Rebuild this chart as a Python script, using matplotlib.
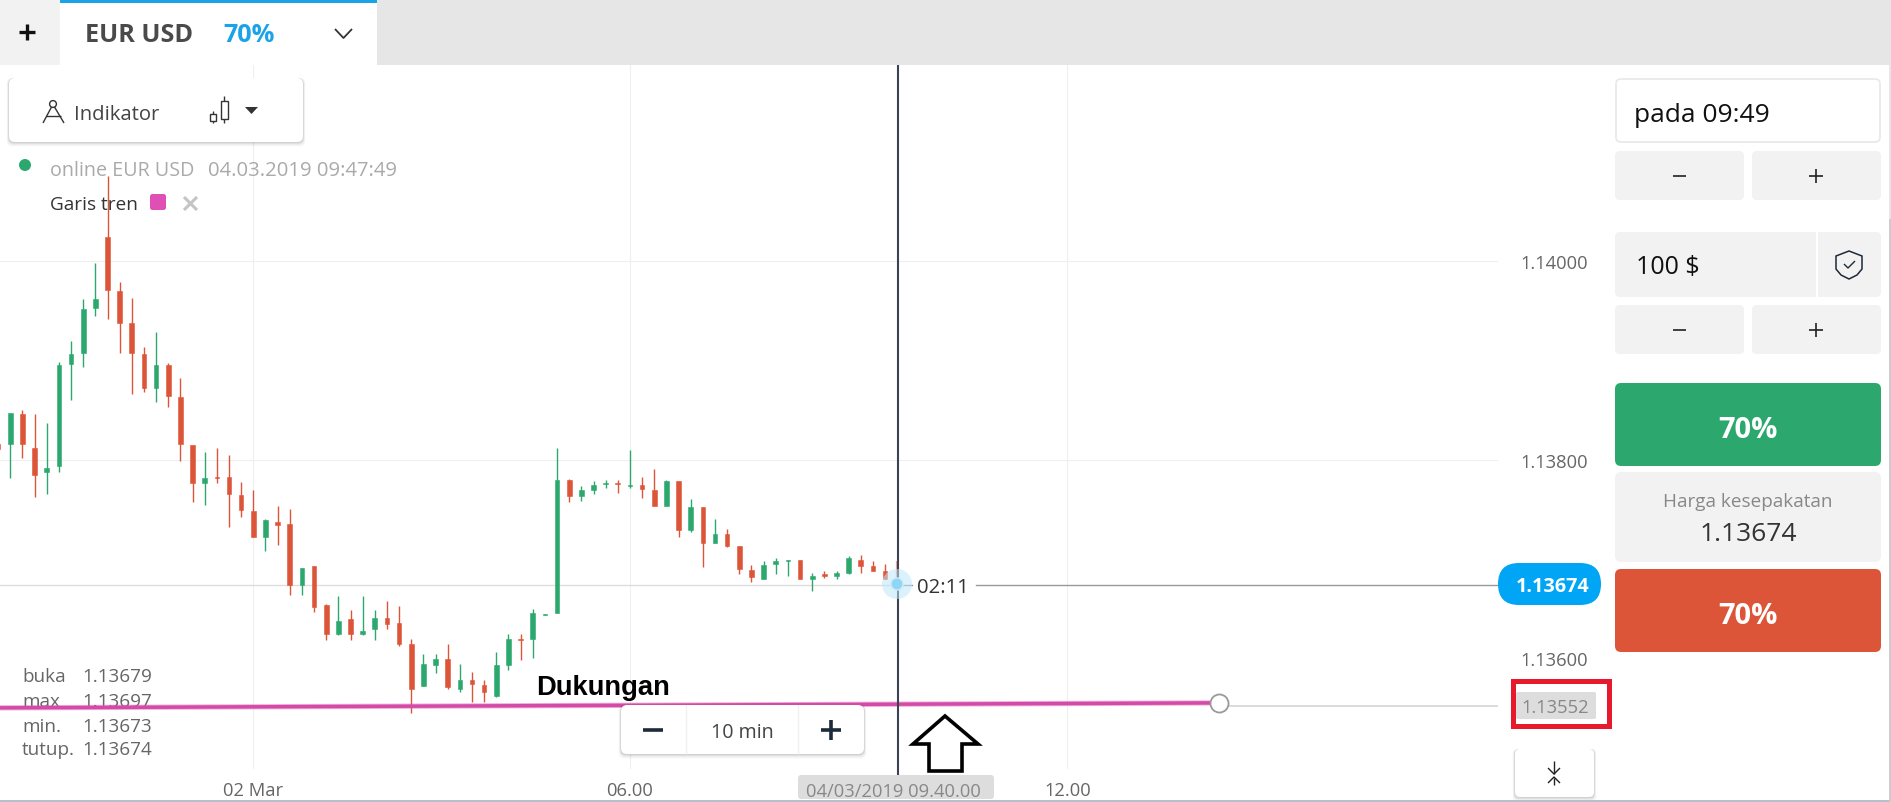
import numpy as np
import matplotlib
matplotlib.use("Agg")
import matplotlib.pyplot as plt
from matplotlib.patches import FancyBboxPatch, Rectangle, Circle, Polygon

plt.rcParams['font.family'] = ['Open Sans', 'DejaVu Sans']

W, H = 1891, 803

## candles (first one is cut by the left edge)
opens = [1.13816, 1.13816, 1.13846, 1.13812, 1.13788, 1.13794, 1.13896, 1.13907, 1.13953, 1.14024, 1.13970, 1.13938, 1.13906, 1.13872, 1.13895, 1.13863, 1.13815, 1.13776, 1.13782, 1.13782, 1.13764, 1.13748, 1.13722, 1.13737, 1.13735, 1.13674, 1.13693, 1.13654, 1.13624, 1.13639, 1.13624, 1.13629, 1.13640, 1.13635, 1.13614, 1.13572, 1.13593, 1.13599, 1.13569, 1.13578, 1.13573, 1.13562, 1.13593, 1.13619, 1.13619, 1.13644, 1.13646, 1.13779, 1.13763, 1.13769, 1.13775, 1.13776, 1.13773, 1.13774, 1.13769, 1.13753, 1.13778, 1.13729, 1.13752, 1.13716, 1.13725, 1.13713, 1.13689, 1.13680, 1.13695, 1.13698, 1.13699, 1.13680, 1.13685, 1.13683, 1.13686, 1.13699, 1.13693, 1.13688, 1.13680]
highs = [1.13817, 1.13847, 1.13850, 1.13846, 1.13837, 1.13898, 1.13919, 1.13962, 1.13998, 1.14086, 1.13979, 1.13963, 1.13913, 1.13928, 1.13897, 1.13882, 1.13815, 1.13808, 1.13812, 1.13805, 1.13777, 1.13769, 1.13740, 1.13753, 1.13750, 1.13691, 1.13693, 1.13655, 1.13663, 1.13649, 1.13663, 1.13649, 1.13658, 1.13653, 1.13619, 1.13604, 1.13604, 1.13614, 1.13594, 1.13586, 1.13578, 1.13606, 1.13624, 1.13624, 1.13650, 1.13645, 1.13812, 1.13780, 1.13773, 1.13778, 1.13779, 1.13779, 1.13810, 1.13782, 1.13791, 1.13779, 1.13778, 1.13760, 1.13752, 1.13740, 1.13730, 1.13713, 1.13694, 1.13698, 1.13701, 1.13699, 1.13699, 1.13686, 1.13688, 1.13688, 1.13703, 1.13704, 1.13698, 1.13695, 1.13698]
lows = [1.13810, 1.13781, 1.13802, 1.13762, 1.13765, 1.13788, 1.13860, 1.13893, 1.13945, 1.13942, 1.13907, 1.13866, 1.13868, 1.13858, 1.13853, 1.13799, 1.13757, 1.13754, 1.13776, 1.13732, 1.13742, 1.13722, 1.13708, 1.13714, 1.13664, 1.13664, 1.13647, 1.13618, 1.13623, 1.13618, 1.13623, 1.13618, 1.13629, 1.13612, 1.13545, 1.13572, 1.13585, 1.13569, 1.13566, 1.13556, 1.13556, 1.13561, 1.13588, 1.13598, 1.13600, 1.13644, 1.13646, 1.13757, 1.13758, 1.13765, 1.13771, 1.13766, 1.13771, 1.13761, 1.13753, 1.13753, 1.13722, 1.13727, 1.13692, 1.13716, 1.13712, 1.13685, 1.13677, 1.13680, 1.13685, 1.13683, 1.13680, 1.13668, 1.13681, 1.13680, 1.13685, 1.13686, 1.13688, 1.13680, 1.13674]
closes = [1.13811, 1.13847, 1.13816, 1.13784, 1.13792, 1.13895, 1.13906, 1.13952, 1.13962, 1.13971, 1.13938, 1.13907, 1.13872, 1.13895, 1.13864, 1.13816, 1.13776, 1.13781, 1.13781, 1.13765, 1.13749, 1.13722, 1.13739, 1.13734, 1.13674, 1.13691, 1.13652, 1.13624, 1.13637, 1.13624, 1.13627, 1.13640, 1.13634, 1.13614, 1.13569, 1.13594, 1.13599, 1.13571, 1.13578, 1.13574, 1.13566, 1.13593, 1.13619, 1.13618, 1.13646, 1.13645, 1.13779, 1.13763, 1.13769, 1.13774, 1.13776, 1.13775, 1.13774, 1.13770, 1.13753, 1.13778, 1.13729, 1.13752, 1.13716, 1.13725, 1.13713, 1.13690, 1.13682, 1.13694, 1.13698, 1.13699, 1.13680, 1.13683, 1.13683, 1.13686, 1.13701, 1.13693, 1.13688, 1.13680, 1.13674]

price_ticks = [1.136, 1.138, 1.140]
price_labels = ['1.13600', '1.13800', '1.14000']
grid_prices = [1.138, 1.140]
time_ticks = [21, 52, 88]
time_labels = ['02 Mar', '06.00', '12.00']
current_price = 1.13674
trend_x = [0, 100.5]
trend_y = [1.13550, 1.13555]
trend_end = 1.13552
ohlc_names = ['buka', 'max', 'min.', 'tutup.']
ohlc_vals = ['1.13679', '1.13697', '1.13673', '1.13674']

GREEN = '#2ca86f'
RED = '#dd5539'
PINK = '#e04fb4'

fig = plt.figure(figsize=(W / 100, H / 100), dpi=100, facecolor='white')

## chart area in pixels: x 0..1498, y 66..770
ax = fig.add_axes([0, 1 - 770 / H, 1498 / W, (770 - 66) / H])
step = 12.15
ax.set_xlim(1.85 / step, (1498 + 1.85) / step)
y_per_px = 1e-5 / 0.993
ax.set_ylim(1.14 - (770 - 262) * y_per_px, 1.14 + (262 - 66) * y_per_px)

for s in ax.spines.values():
    s.set_visible(False)
ax.set_yticks(price_ticks)
ax.set_yticklabels(price_labels)
ax.set_xticks(time_ticks)
ax.set_xticklabels(time_labels)
ax.yaxis.tick_right()
ax.tick_params(axis='y', length=0, pad=16, labelsize=13.2, labelcolor='#666666')
ax.tick_params(axis='x', length=0, pad=8.5, labelsize=13.2, labelcolor='#666666')
ax.grid(True, axis='x', color='#efefef', lw=0.8)
ax.set_axisbelow(True)
## the 1.13600 level has a label but no line in the app
for g in grid_prices:
    ax.axhline(g, color='#efefef', lw=0.8, zorder=0.5)

opens_a = np.array(opens)
closes_a = np.array(closes)
idx = np.arange(len(opens))
up = closes_a >= opens_a
cols = np.where(up, GREEN, RED)

last = len(opens) - 1
ax.vlines(idx[:last], lows[:last], highs[:last], colors=cols[:last], lw=1.0, zorder=3)
ax.bar(idx[:last], np.abs(closes_a - opens_a)[:last], bottom=np.minimum(opens_a, closes_a)[:last],
       width=0.38, color=cols[:last], edgecolor=cols[:last], lw=0.4, zorder=3)
ax.vlines(idx[last], lows[last], highs[last], colors=RED, lw=1.6, alpha=0.5, zorder=3)

## current price line, left part light, right part darker after the countdown
ax.axhline(current_price, xmax=897 / 1498, color='#dddddd', lw=1, zorder=1)
ax.plot([74, 75.2], [current_price, current_price], color='#999999', lw=1, zorder=4)
ax.plot([80.5, 125], [current_price, current_price], color='#999999', lw=1, zorder=4)

## open/high/low/close block sits under the trend line
ui_px = fig.transFigure + plt.matplotlib.transforms.Affine2D()
for name, val, yy in zip(ohlc_names, ohlc_vals, [675, 700, 725, 748]):
    ax.text(22 / W, 1 - yy / H, name, fontsize=13.6, color='#666666', va='center_baseline',
            transform=fig.transFigure, zorder=2)
    ax.text(82 / W, 1 - yy / H, val, fontsize=13.6, color='#666666', va='center_baseline',
            transform=fig.transFigure, zorder=2)

## trend line
ax.plot([trend_x[1], 125], [trend_end, trend_end], color='#dcdcdc', lw=1.4, zorder=4)
ax.plot(trend_x, trend_y, color=PINK, lw=3.8, alpha=0.45, solid_capstyle='butt', zorder=5)
ax.plot(trend_x, trend_y, color='#d34ba6', lw=2.5, solid_capstyle='butt', zorder=5)
ax.plot(trend_x[1], trend_y[1], 'o', ms=13, mfc='white', mec='#999999', mew=1.3, zorder=6)

## everything else is page furniture, drawn in pixel coordinates on top
ui = fig.add_axes([0, 0, 1, 1], facecolor='none')
ui.set_xlim(0, W)
ui.set_ylim(H, 0)
ui.axis('off')


def box(x0, y0, x1, y1, r=5, fc='#f2f2f2', ec='none', lw=0, z=2):
    p = FancyBboxPatch((x0 + r, y0 + r), x1 - x0 - 2 * r, y1 - y0 - 2 * r,
                       boxstyle='round,pad=%g,rounding_size=%g' % (r, r),
                       fc=fc, ec=ec, lw=lw, zorder=z, mutation_aspect=1)
    ui.add_patch(p)
    return p


def shadowed(x0, y0, x1, y1, r=6, z=3):
    for off, a in [(5, 0.015), (4, 0.025), (3, 0.035), (2, 0.05), (1, 0.06)]:
        box(x0 - off / 2, y0, x1 + off / 2, y1 + off, r=r, fc=(0, 0, 0, a), z=z)
    box(x0, y0, x1, y1, r=r, fc='white', z=z)


def txt(x, y, s, size=13, color='#333333', ha='left', weight='normal', z=8, **kw):
    return ui.text(x, y, s, fontsize=size, color=color, ha=ha, va='center_baseline',
                   fontweight=weight, zorder=z, **kw)


def seg(xs, ys, color='#333333', lw=1.0, z=8, **kw):
    ui.plot(xs, ys, color=color, lw=lw, zorder=z, solid_capstyle=kw.pop('cap', 'butt'), **kw)


## top tab bar
ui.add_patch(Rectangle((0, 0), 1889, 66, fc='#e6e6e6', ec='none', zorder=1))
ui.add_patch(Rectangle((0, 0), 60, 66, fc='#f2f2f2', ec='none', zorder=1))
ui.add_patch(Rectangle((60, 0), 317, 66, fc='white', ec='none', zorder=1))
ui.add_patch(Rectangle((60, 1), 317, 3, fc='#1aa3e8', ec='none', zorder=2))
seg([19, 35], [33, 33], '#111111', 2.4)
seg([27, 27], [25, 41], '#111111', 2.4)
txt(85, 33, 'EUR USD', 18.2, '#4a4a4a', weight='bold')
txt(223, 33, '70%', 18.2, '#1aa3e8', weight='bold')
seg([335, 343.5, 352], [30, 39, 30], '#333333', 1.3)

## indicator panel
shadowed(9, 79, 303, 143)
ui.add_patch(Circle((53, 105), 3.4, fc='none', ec='#333333', lw=1, zorder=8))
seg([51.5, 43], [108, 124], '#333333', 1)
seg([54.5, 64], [108, 124], '#333333', 1)
seg([46, 61], [117, 117], '#333333', 1)
txt(74, 112, 'Indikator', 14.6, '#444444')
seg([213, 213], [112, 124], '#333333', 1)
ui.add_patch(Rectangle((210, 114.5), 6, 7, fc='white', ec='#333333', lw=1, zorder=9))
seg([224, 224], [97, 124], '#333333', 1)
ui.add_patch(Rectangle((220.5, 102), 7, 18, fc='white', ec='#333333', lw=1, zorder=9))
ui.add_patch(Polygon([(245, 108), (258, 108), (251.5, 115)], fc='#333333', ec='none', zorder=8))

## status lines
ui.add_patch(Circle((25, 166), 6, fc=GREEN, ec='none', zorder=7))
txt(50, 168, 'online EUR USD', 14.2, '#aaaaaa')
txt(208, 168, '04.03.2019 09:47:49', 14.6, '#aaaaaa')
txt(50, 203, 'Garis tren', 13.7, '#333333')
box(150, 195, 166, 211, r=2.5, fc=PINK, z=7)
seg([184, 197], [198, 211], '#c4c4c4', 2.2)
seg([184, 197], [211, 198], '#c4c4c4', 2.2)

## crosshair and last price marker
seg([897.7, 897.7], [66, 776], '#3b4252', 1.5, z=3)
ui.add_patch(Circle((897, 585), 15, fc='#bfe6f8', ec='none', alpha=0.55, zorder=4))
ui.add_patch(Circle((897, 585), 6, fc='#8fd5f6', ec='#c9ecfb', lw=1, zorder=5))
txt(917, 586, '02:11', 14.6, '#333333')

## price pill
box(1498, 564, 1601, 606, r=21, fc='#00a5f5', z=6)
txt(1553, 585, '1.13674', 14.2, 'white', ha='center', weight='bold')

## trend line label and price tag
box(1516, 693, 1596, 720, r=2, fc='#dddddd', z=6)
txt(1555, 706, '1.13552', 13.2, '#888888', ha='center')
ui.add_patch(Rectangle((1512.5, 681.5), 96, 45, fc='none', ec='#e8192c', lw=3.6, zorder=9))
txt(536, 685, 'Dukungan', 19.7, 'black', weight='bold', family='Liberation Sans')

## zoom widget
shadowed(621, 706, 864, 755)
seg([686, 686], [706, 755], '#f0f0f0', 1)
seg([798, 798], [706, 755], '#f0f0f0', 1)
seg([643, 663], [731, 731], '#1c2a3a', 2.6)
seg([821, 841], [731, 731], '#1c2a3a', 2.6)
seg([831, 831], [721, 741], '#1c2a3a', 2.6)
txt(742, 731, '10 min', 14.2, '#444444', ha='center')

## hollow up arrow
arrow = [(945, 717), (978, 745), (962, 745), (962, 772), (929, 772), (929, 745), (913, 745)]
ui.add_patch(Polygon(arrow, closed=True, fc='white', ec='black', lw=2.6, joinstyle='miter', zorder=7))

## time tag
box(798, 776, 994, 800, r=3, fc='#dddddd', z=6)
txt(893, 790, '04/03/2019 09.40.00', 13.2, '#888888', ha='center')

## collapse button
shadowed(1515, 750, 1594, 798, r=5)
seg([1554, 1554], [762, 775], '#222222', 1)
seg([1548, 1554, 1560], [769, 775, 769], '#222222', 1)
seg([1554, 1554], [779, 786], '#222222', 1)
seg([1548, 1554, 1560], [784, 778, 784], '#222222', 1)

## right side panel
box(1616, 80, 1880, 143, r=5, fc='white', ec='#e8e8e8', lw=1.2)
txt(1634, 112, 'pada 09:49', 19, '#111111')
for yy0, yy1 in [(152, 201), (306, 355)]:
    box(1615, yy0, 1744, yy1, r=5)
    box(1752, yy0, 1881, yy1, r=5)
    ym = (yy0 + yy1) / 2
    seg([1673, 1686], [ym, ym], '#222222', 1.2)
    seg([1809, 1823], [ym, ym], '#222222', 1.2)
    seg([1816, 1816], [ym - 7, ym + 7], '#222222', 1.2)
box(1615, 233, 1881, 298, r=5)
ui.add_patch(Rectangle((1816, 233), 2, 65, fc='white', ec='none', zorder=3))
txt(1636, 265, '100 $', 18, '#111111')
shield = [(1849, 252), (1836, 257), (1836, 270), (1841, 276), (1849, 280), (1857, 276), (1862, 270), (1862, 257)]
ui.add_patch(Polygon(shield, closed=True, fc='none', ec='#1c2a3a', lw=1.1, zorder=8))
seg([1844, 1848, 1855], [265, 269, 262], '#1c2a3a', 1)

box(1615, 384, 1881, 467, r=6, fc=GREEN)
txt(1748, 427, '70%', 21, 'white', ha='center', weight='bold')
box(1615, 473, 1881, 563, r=6)
txt(1748, 500, 'Harga kesepakatan', 13.6, '#888888', ha='center')
txt(1748, 532, '1.13674', 19, '#333333', ha='center')
box(1615, 570, 1881, 653, r=6, fc=RED)
txt(1748, 613, '70%', 21, 'white', ha='center', weight='bold')

## page edges
ui.add_patch(Rectangle((0, 800.5), 1889, 2.5, fc='#b4c0d0', ec='none', zorder=9))
seg([1890.3, 1890.3], [0, 220], '#e2e2e2', 1.2, z=9)
seg([1890.3, 1890.3], [220, 803], '#c2c2c2', 1.2, z=9)

fig.savefig('out.png', dpi=100)
